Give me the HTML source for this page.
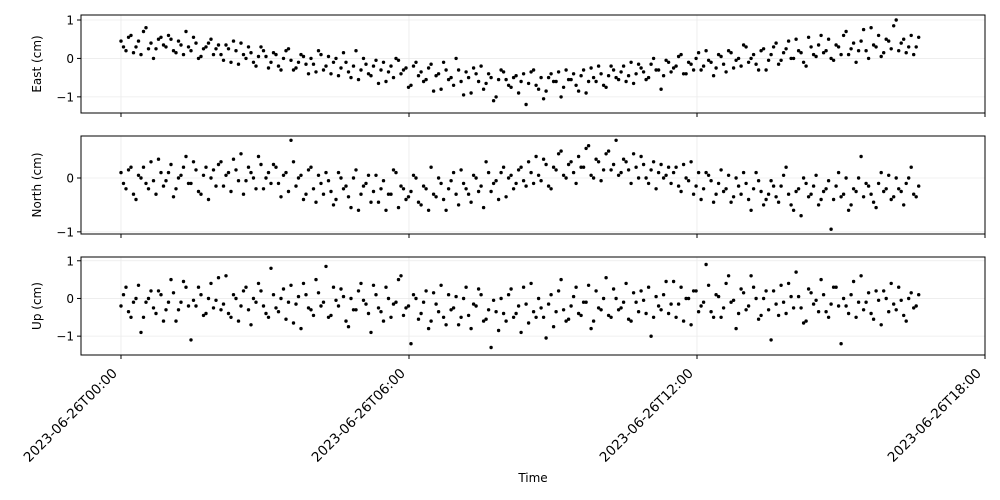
<!DOCTYPE html>
<html><head><meta charset="utf-8"><style>
html,body{margin:0;padding:0;background:#fff;}
svg{display:block;font-family:"DejaVu Sans","Liberation Sans",sans-serif;}
</style></head><body>
<svg id="chart" width="1000" height="500"></svg>
<script>
const xTickHours = [0, 6, 12, 18];
const xTickLabels = ["2023-06-26T00:00","2023-06-26T06:00","2023-06-26T12:00","2023-06-26T18:00"];
const spanHours = 16.67;
const eastValues = [0.45,0.2,0.6,0.3,0.1,0.8,0.4,0.25,0.55,0.3,
0.5,0.15,0.35,0.7,0.2,0.4,0.05,0.3,0.5,0.25,
0.1,0.35,-0.1,0.2,0.4,0.0,0.15,-0.2,0.3,0.05,
-0.1,0.1,-0.3,0.2,-0.05,-0.25,0.1,-0.15,0.0,-0.35,
0.1,-0.2,-0.4,0.0,-0.25,-0.1,-0.5,0.2,-0.3,-0.15,
-0.45,-0.05,-0.3,-0.6,-0.2,0.0,-0.4,-0.25,-0.7,-0.1,
-0.35,-0.55,-0.15,-0.45,-0.8,-0.3,-0.5,0.0,-0.6,-0.35,
-0.9,-0.4,-0.2,-0.65,-0.5,-1.0,-0.3,-0.55,-0.75,-0.45,
-0.6,-1.2,-0.35,-0.7,-0.5,-0.85,-0.4,-0.6,-1.0,-0.3,
-0.55,-0.7,-0.45,-0.9,-0.25,-0.6,-0.4,-0.75,-0.2,-0.5,
-0.35,-0.6,-0.1,-0.4,-0.25,-0.55,-0.15,-0.3,-0.8,-0.05,
-0.35,-0.2,0.1,-0.4,-0.15,0.0,-0.3,0.2,-0.1,-0.25,
0.05,-0.35,0.15,-0.05,-0.2,0.3,0.0,-0.15,0.2,-0.3,
0.1,0.4,-0.05,0.25,0.0,0.5,0.15,-0.2,0.3,0.05,
0.6,0.2,0.0,0.35,0.1,0.7,0.25,-0.1,0.45,0.2,
0.8,0.3,0.05,0.5,0.25,1.0,0.4,0.15,0.6,0.3];
const eastValuesB = [0.3,0.55,0.15,0.45,0.7,0.25,0.0,0.5,0.35,0.6,
0.2,0.45,0.1,0.3,0.55,0.0,0.25,0.4,0.1,0.35,
-0.05,0.25,0.45,-0.15,0.1,0.3,-0.1,0.05,0.2,-0.25,
0.15,-0.2,0.0,0.25,-0.3,-0.1,0.05,-0.4,-0.15,0.2,
-0.3,0.05,-0.1,-0.45,0.15,-0.35,-0.2,-0.55,0.0,-0.4,
-0.2,-0.65,-0.1,-0.35,-0.5,-0.05,-0.3,-0.75,-0.2,-0.45,
-0.6,-0.25,-0.85,-0.4,-0.1,-0.55,-0.7,-0.3,-0.95,-0.5,
-0.25,-0.6,-0.8,-0.4,-1.1,-0.55,-0.35,-0.7,-0.5,-0.9,
-0.4,-0.65,-0.3,-0.8,-1.05,-0.5,-0.6,-0.35,-0.75,-0.55,
-0.4,-0.85,-0.3,-0.6,-0.5,-0.2,-0.7,-0.45,-0.3,-0.55,
-0.2,-0.45,-0.65,-0.15,-0.35,-0.5,0.0,-0.3,-0.45,-0.1,
-0.25,0.05,-0.4,-0.1,-0.3,0.15,-0.2,-0.05,-0.45,0.1,
-0.15,0.2,-0.25,0.0,0.35,-0.1,0.1,-0.3,0.25,-0.05,
0.3,-0.15,0.15,0.45,0.0,0.2,-0.1,0.55,0.1,0.35,
0.15,0.5,-0.05,0.3,0.6,0.1,0.4,0.2,0.75,0.0,
0.35,0.6,0.15,0.45,0.85,0.2,0.5,0.3,0.1,0.55];
const northValues = [0.1,-0.2,0.2,-0.4,0.0,-0.1,0.3,-0.3,0.1,-0.05,
0.25,-0.2,0.05,0.4,-0.1,0.15,-0.3,0.2,0.0,-0.15,
0.3,0.05,-0.25,0.15,0.45,-0.05,0.1,-0.2,0.25,0.0,
-0.1,0.2,-0.35,0.1,0.7,-0.15,0.05,-0.3,0.2,-0.45,
-0.1,0.1,-0.25,-0.4,0.0,-0.15,-0.55,0.15,-0.3,-0.1,
-0.45,0.05,-0.2,-0.6,-0.3,0.1,-0.15,-0.4,-0.25,0.0,
-0.5,-0.2,0.2,-0.35,-0.1,-0.6,-0.05,-0.3,0.15,-0.2,
-0.45,0.0,-0.15,0.3,-0.25,-0.05,0.1,-0.35,0.05,-0.1,
0.2,-0.15,0.1,0.4,-0.05,0.25,-0.2,0.15,0.5,0.0,
0.3,-0.1,0.2,0.55,0.05,0.35,-0.05,0.45,0.15,0.7,
0.1,0.3,-0.1,0.2,0.4,0.0,0.15,-0.2,0.25,0.05,
-0.1,0.2,-0.25,0.0,0.3,-0.15,-0.4,0.1,-0.05,-0.3,
0.15,-0.2,-0.45,0.0,-0.3,-0.1,-0.6,0.1,-0.25,-0.4,
-0.05,-0.35,-0.15,0.2,-0.5,-0.25,-0.7,-0.1,-0.3,0.05,
-0.4,-0.2,-0.95,-0.15,-0.35,0.0,-0.5,-0.25,0.4,-0.1,
-0.3,-0.55,0.1,-0.2,-0.4,0.0,-0.25,-0.1,0.2,-0.35];
const northValuesB = [-0.1,0.15,-0.3,0.05,0.2,-0.2,-0.05,0.35,-0.15,0.1,
-0.35,0.0,0.2,-0.1,0.3,-0.25,0.05,-0.4,0.15,0.25,
-0.15,0.1,0.35,-0.05,-0.3,0.2,0.0,0.4,-0.2,0.1,
0.25,-0.1,0.05,-0.25,0.3,0.0,-0.4,0.15,-0.2,0.05,
-0.3,-0.05,-0.5,0.1,-0.2,-0.35,0.0,-0.6,-0.15,0.05,
-0.25,-0.45,-0.05,-0.3,0.15,-0.55,-0.2,-0.35,0.05,-0.45,
-0.15,-0.6,-0.3,0.0,-0.4,-0.2,0.1,-0.5,-0.1,-0.3,
0.05,-0.25,-0.55,0.1,-0.1,-0.4,0.2,0.0,-0.2,0.15,
-0.05,0.3,-0.1,0.05,0.35,-0.15,0.2,0.45,0.05,0.25,
0.1,0.4,0.2,0.6,0.0,0.3,0.15,0.5,0.25,0.05,
0.35,0.15,0.45,0.0,0.25,-0.1,0.3,0.1,0.0,0.2,
0.1,-0.15,0.25,-0.05,-0.3,0.1,-0.2,0.05,-0.45,-0.1,
-0.25,0.05,-0.35,-0.15,0.1,-0.4,-0.2,-0.05,-0.5,-0.3,
-0.15,-0.45,0.05,-0.3,-0.6,-0.2,0.0,-0.35,-0.15,-0.5,
-0.25,-0.05,-0.4,0.1,-0.3,-0.6,-0.2,0.0,-0.35,-0.15,
-0.45,-0.1,-0.25,0.05,-0.35,-0.2,-0.5,0.0,-0.3,-0.15];
const upValues = [-0.2,0.3,-0.5,0.0,-0.9,-0.1,0.2,-0.4,0.1,-0.3,
0.5,-0.6,-0.1,0.3,-1.1,-0.2,0.1,-0.4,0.4,-0.05,
-0.3,0.6,-0.5,0.0,-0.2,0.3,-0.7,-0.1,0.2,-0.4,
0.8,-0.25,0.0,-0.55,0.35,-0.15,-0.8,0.1,-0.3,0.5,
-0.2,0.85,-0.45,-0.05,0.25,-0.6,0.0,-0.3,0.4,-0.15,
-0.9,0.1,-0.35,0.3,-0.5,-0.1,0.6,-0.25,-1.2,0.0,
-0.4,0.2,-0.6,-0.15,0.35,-0.7,-0.3,0.05,-0.5,0.3,
-0.8,-0.2,0.1,-0.55,-1.3,-0.35,0.0,-0.6,0.25,-0.4,
-0.9,-0.15,0.4,-0.5,-0.25,-1.05,0.1,-0.35,0.5,-0.6,
-0.2,0.3,-0.45,-0.1,-0.8,0.2,-0.3,0.55,-0.5,0.0,
-0.25,0.4,-0.6,-0.1,0.2,-0.4,-1.0,0.05,-0.3,0.45,
-0.15,-0.5,0.3,0.0,-0.7,0.2,-0.2,0.9,-0.35,0.1,
-0.5,0.4,-0.1,-0.8,0.25,-0.3,0.6,0.0,-0.45,0.2,
-1.1,-0.15,0.35,-0.4,0.05,0.7,-0.25,-0.6,0.15,-0.05,
0.5,-0.35,-0.15,0.3,-1.2,-0.2,0.1,-0.5,0.6,-0.1,
-0.4,0.2,-0.7,0.0,0.4,-0.3,-0.05,-0.6,0.15,-0.2];
const upValuesB = [0.1,-0.35,-0.1,0.35,-0.5,0.0,-0.25,0.2,-0.6,-0.1,
0.15,-0.3,0.45,-0.2,-0.05,0.3,-0.45,0.0,-0.25,0.55,
-0.15,-0.4,0.1,-0.6,0.2,-0.3,0.0,0.4,-0.2,-0.5,
0.1,-0.35,0.25,-0.1,-0.65,0.05,0.4,-0.25,-0.45,0.15,
-0.1,-0.5,0.3,-0.2,0.05,-0.75,-0.3,0.2,-0.05,-0.4,
0.35,-0.25,-0.6,0.0,-0.15,0.5,-0.45,-0.2,0.1,-0.55,
-0.1,-0.8,0.15,-0.35,-0.5,0.1,-0.25,-0.7,0.0,-0.45,
-0.15,0.25,-0.6,-0.3,-0.05,-0.85,-0.4,0.1,-0.5,-0.2,
0.3,-0.65,-0.35,0.0,-0.5,-0.15,-0.75,0.2,-0.3,-0.55,
0.05,-0.4,-0.1,0.35,-0.6,-0.25,0.0,-0.45,0.25,-0.3,
-0.1,-0.55,0.15,-0.35,-0.05,0.3,-0.5,-0.2,0.1,-0.4,
0.45,-0.15,-0.6,0.0,0.2,-0.35,-0.1,0.35,-0.5,0.05,
-0.25,0.6,-0.05,-0.4,0.15,-0.2,0.3,-0.55,0.0,-0.3,
0.2,-0.45,-0.1,0.4,-0.25,0.05,-0.65,0.25,-0.15,-0.35,
0.1,-0.5,0.3,-0.2,0.0,-0.4,0.45,-0.1,-0.3,0.15,
-0.55,-0.05,0.2,-0.35,-0.15,0.3,-0.45,0.0,-0.25,0.1];
const eastTicks = [1, 0, -1];
const northTicks = [0, -1];
const upTicks = [1, 0, -1];

const NS = "http://www.w3.org/2000/svg";
const svg = document.getElementById("chart");
function mk(tag, attrs, parent) {
  const e = document.createElementNS(NS, tag);
  for (const k in attrs) e.setAttribute(k, attrs[k]);
  (parent || svg).appendChild(e);
  return e;
}
const X0 = 81, X1 = 985;
const hMin = -0.833, hMax = 18;
function xScale(h) { return X0 + (h - hMin) / (hMax - hMin) * (X1 - X0); }

const panels = [
  {name:"east", label:"East (cm)", top:15, bottom:113, vMax:1.13, vMin:-1.42, series:[eastValues, eastValuesB], ticks:eastTicks},
  {name:"north", label:"North (cm)", top:136, bottom:234, vMax:0.78, vMin:-1.04, series:[northValues, northValuesB], ticks:northTicks},
  {name:"up", label:"Up (cm)", top:257, bottom:355, vMax:1.1, vMin:-1.5, series:[upValues, upValuesB], ticks:upTicks}
];

panels.forEach((p, pi) => {
  const yScale = v => p.top + (p.vMax - v) / (p.vMax - p.vMin) * (p.bottom - p.top);
  const g = mk("g", {});
  
  
  xTickHours.forEach(h => {
    const x = xScale(h);
    mk("line", {x1:x, x2:x, y1:p.top, y2:p.bottom, stroke:"#ebebeb", "stroke-width":0.8}, g);
  });
  p.ticks.forEach(v => {
    const y = yScale(v);
    mk("line", {x1:X0, x2:X1, y1:y, y2:y, stroke:"#ebebeb", "stroke-width":0.8}, g);
  });
  p.series.forEach((vals, si) => {
    const n = vals.length;
    const step = spanHours / n;
    vals.forEach((v, i) => {
      const c = mk("circle", {cx:xScale((i + si * 0.5) * step).toFixed(1), cy:yScale(v).toFixed(1), r:1.7, fill:"#000"}, g);
      
      
    });
  });
  const fr = mk("rect", {x:X0, y:p.top, width:X1 - X0, height:p.bottom - p.top, fill:"none", stroke:"#000", "stroke-width":1}, g);
  
  
  p.ticks.forEach(v => {
    const y = yScale(v);
    mk("line", {x1:X0 - 4, x2:X0, y1:y, y2:y, stroke:"#000", "stroke-width":1}, g);
    const t = mk("text", {x:X0 - 7, y:y + 4.5, "text-anchor":"end", "font-size":12, fill:"#000"}, g);
    t.textContent = v < 0 ? "\u2212" + Math.abs(v) : String(v);
    
    
  });
  const cy = (p.top + p.bottom) / 2;
  const yl = mk("text", {x:0, y:0, transform:`translate(41,${cy}) rotate(-90)`, "text-anchor":"middle", "font-size":12, fill:"#000"}, g);
  yl.textContent = p.label;
  
  
  xTickHours.forEach((h, i) => {
    const x = xScale(h);
    mk("line", {x1:x, x2:x, y1:p.bottom, y2:p.bottom + 4, stroke:"#000", "stroke-width":1}, g);
    if (pi === panels.length - 1) {
      const t = mk("text", {x:0, y:0, transform:`translate(${x - 3},${p.bottom + 19}) rotate(-45)`, "text-anchor":"end", "font-size":13.5, fill:"#000"}, g);
      t.textContent = xTickLabels[i];
      
      
    }
  });
});
const xt = mk("text", {x:533, y:482, "text-anchor":"middle", "font-size":12, fill:"#000"});
xt.textContent = "Time";


</script>
</body></html>
